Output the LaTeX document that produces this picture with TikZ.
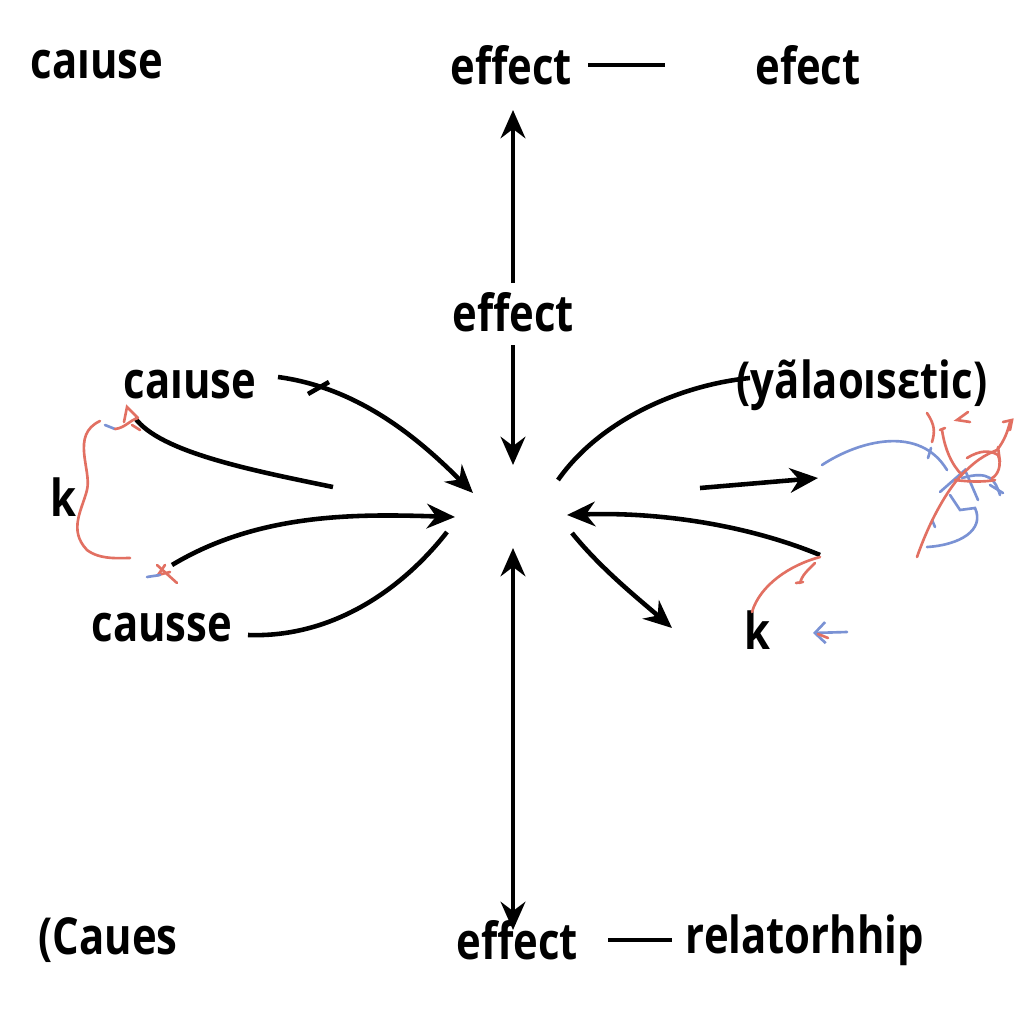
\documentclass[tikz,border=0pt]{standalone}
\usepackage{fontspec}
\setmainfont{Open Sans}[FakeStretch=0.82]
\usetikzlibrary{arrows.meta}
\definecolor{inkred}{RGB}{226,112,98}
\definecolor{inkblue}{RGB}{122,146,212}
\tikzset{
  lbl/.style={font=\fontsize{14.5}{16}\selectfont\bfseries, inner sep=0pt, anchor=center},
  conn/.style={line width=1.3pt, -{Stealth[length=8pt,width=7pt]}},
  bothway/.style={line width=1.3pt, {Stealth[length=8pt,width=7pt]}-{Stealth[length=8pt,width=7pt]}},
  plain/.style={line width=1.3pt},
  redink/.style={draw=inkred, line width=0.75pt, line cap=round},
  blueink/.style={draw=inkblue, line width=0.75pt, line cap=round}
}
\begin{document}
\begin{tikzpicture}[x=0.01cm, y=-0.01cm]
	\useasboundingbox[fill=white] (0,0) rectangle (1024,1024);
	% labels
	\node[lbl] (cTop)   at (97,65)   {caıuse};
	\node[lbl] (eTop)   at (511,65)  {effect};
	\node[lbl] (eTopR)  at (808,65)  {efect};
	\node[lbl] (eMid)   at (513,312) {effect};
	\node[lbl] (cMid)   at (190,385) {caıuse};
	\node[lbl] (garble) at (862,385) {(yãlaoısεtic)};
	\node[lbl] (kL)     at (63,497)  {k};
	\node[lbl] (cLow)   at (162,628) {causse};
	\node[lbl] (kR)     at (757,630) {k};
	\node[lbl] (cBot)   at (108,940) {(Caues};
	\node[lbl] (eBot)   at (517,940) {effect};
	\node[lbl] (rel)    at (805,940) {relatorhhip};
	% end points
	\coordinate (upTip)   at (513,110);
	\coordinate (upFoot)  at (513,283);
	\coordinate (dnFoot)  at (513,345);
	\coordinate (dnTip)   at (513,465);
	\coordinate (lowTop)  at (513,548);
	\coordinate (lowBot)  at (513,930);
	\coordinate (c1s) at (278,377); \coordinate (c1e) at (473,493);
	\coordinate (c2s) at (135,418); \coordinate (c2e) at (333,487);
	\coordinate (c3s) at (172,565); \coordinate (c3e) at (455,517);
	\coordinate (c4s) at (248,635); \coordinate (c4e) at (447,532);
	\coordinate (r1s) at (558,480); \coordinate (r1e) at (750,378);
	\coordinate (r2s) at (700,488); \coordinate (r2e) at (818,478);
	\coordinate (r3s) at (820,555); \coordinate (r3e) at (567,515);
	\coordinate (r4s) at (572,533); \coordinate (r4e) at (672,628);
	\coordinate (dashA) at (588,65);  \coordinate (dashB) at (665,65);
	\coordinate (dashC) at (608,940); \coordinate (dashD) at (672,940);
	% dashes
	\draw[plain] (dashA) -- (dashB);
	\draw[plain] (dashC) -- (dashD);
	% vertical arrows
	\draw[conn]    (upFoot) -- (upTip);
	\draw[conn]    (dnFoot) -- (dnTip);
	\draw[bothway] (lowTop) -- (lowBot);
	% left side
	\draw[conn]  (c1s) .. controls (360,388) and (420,440) .. (c1e);
	\draw[plain] (329,382) -- (308,394);
	\draw[plain] (c2s) .. controls (160,452) and (250,470) .. (c2e);
	\draw[conn]  (c3s) .. controls (260,512) and (360,514) .. (c3e);
	\draw[plain] (c4s) .. controls (330,638) and (400,592) .. (c4e);
	% right side
	\draw[plain] (r1s) .. controls (600,420) and (680,385) .. (r1e);
	\draw[conn]  (r2s) -- (r2e);
	\draw[conn]  (r3s) .. controls (740,522) and (650,512) .. (r3e);
	\draw[conn]  (r4s) .. controls (602,570) and (640,600) .. (r4e);
	% pen marks, left
	\draw[redink]  (100,421) .. controls (70,435) and (92,470) .. (87,490)
	               .. controls (82,510) and (68,530) .. (87,550) .. controls (100,560) and (120,558) .. (130,558);
	\draw[blueink] (105,425) -- (115,429);
	\draw[redink]  (115,429) .. controls (125,428) and (130,420) .. (138,418);
	\draw[redink]  (124,422) -- (127,407) -- (138,418);
	\draw[redink]  (132,425) -- (140,430);
	\draw[redink]  (157,565) -- (177,583);
	\draw[redink]  (165,565) -- (158,575) -- (170,572);
	\draw[blueink] (147,577) -- (160,575);
	% pen marks, right
	\draw[blueink] (822,465) .. controls (860,440) and (920,425) .. (947,470);
	\draw[blueink] (931,448) -- (928,458);
	\draw[blueink] (927,547) .. controls (960,545) and (985,530) .. (975,508)
	               -- (960,510) -- (950,495);
	\draw[blueink] (940,492) -- (965,470) -- (978,500);
	\draw[blueink] (962,478) .. controls (990,470) and (995,480) .. (1000,495);
	\draw[blueink] (990,485) -- (1003,493);
	\draw[blueink] (932,520) -- (935,527);
	\draw[redink]  (917,557) .. controls (930,520) and (945,495) .. (957,480)
	               .. controls (975,460) and (985,455) .. (997,450) .. controls (1005,440) and (1008,430) .. (1010,422);
	\draw[redink]  (1003,422) -- (1012,420) -- (1010,430);
	\draw[redink]  (927,413) .. controls (935,425) and (935,432) .. (932,442);
	\draw[redink]  (968,412) -- (957,420) -- (970,422);
	\draw[redink]  (942,430) .. controls (945,450) and (952,465) .. (962,475);
	\draw[redink]  (940,430) -- (945,428);
	\draw[redink]  (955,480) .. controls (970,482) and (985,482) .. (995,480);
	\draw[redink]  (967,458) .. controls (980,450) and (990,450) .. (998,455) .. controls (1002,465) and (998,475) .. (992,478);
	\draw[redink]  (998,447) -- (1000,462);
	\draw[redink]  (820,557) .. controls (790,565) and (760,585) .. (752,612);
	\draw[redink]  (815,563) .. controls (808,570) and (802,575) .. (800,583);
	\draw[redink]  (796,583) -- (803,582);
	\draw[blueink, -{Straight Barb[length=3pt]}] (847,632) -- (813,633);
	\draw[redink]  (818,634) -- (828,638);
\end{tikzpicture}
\end{document}
